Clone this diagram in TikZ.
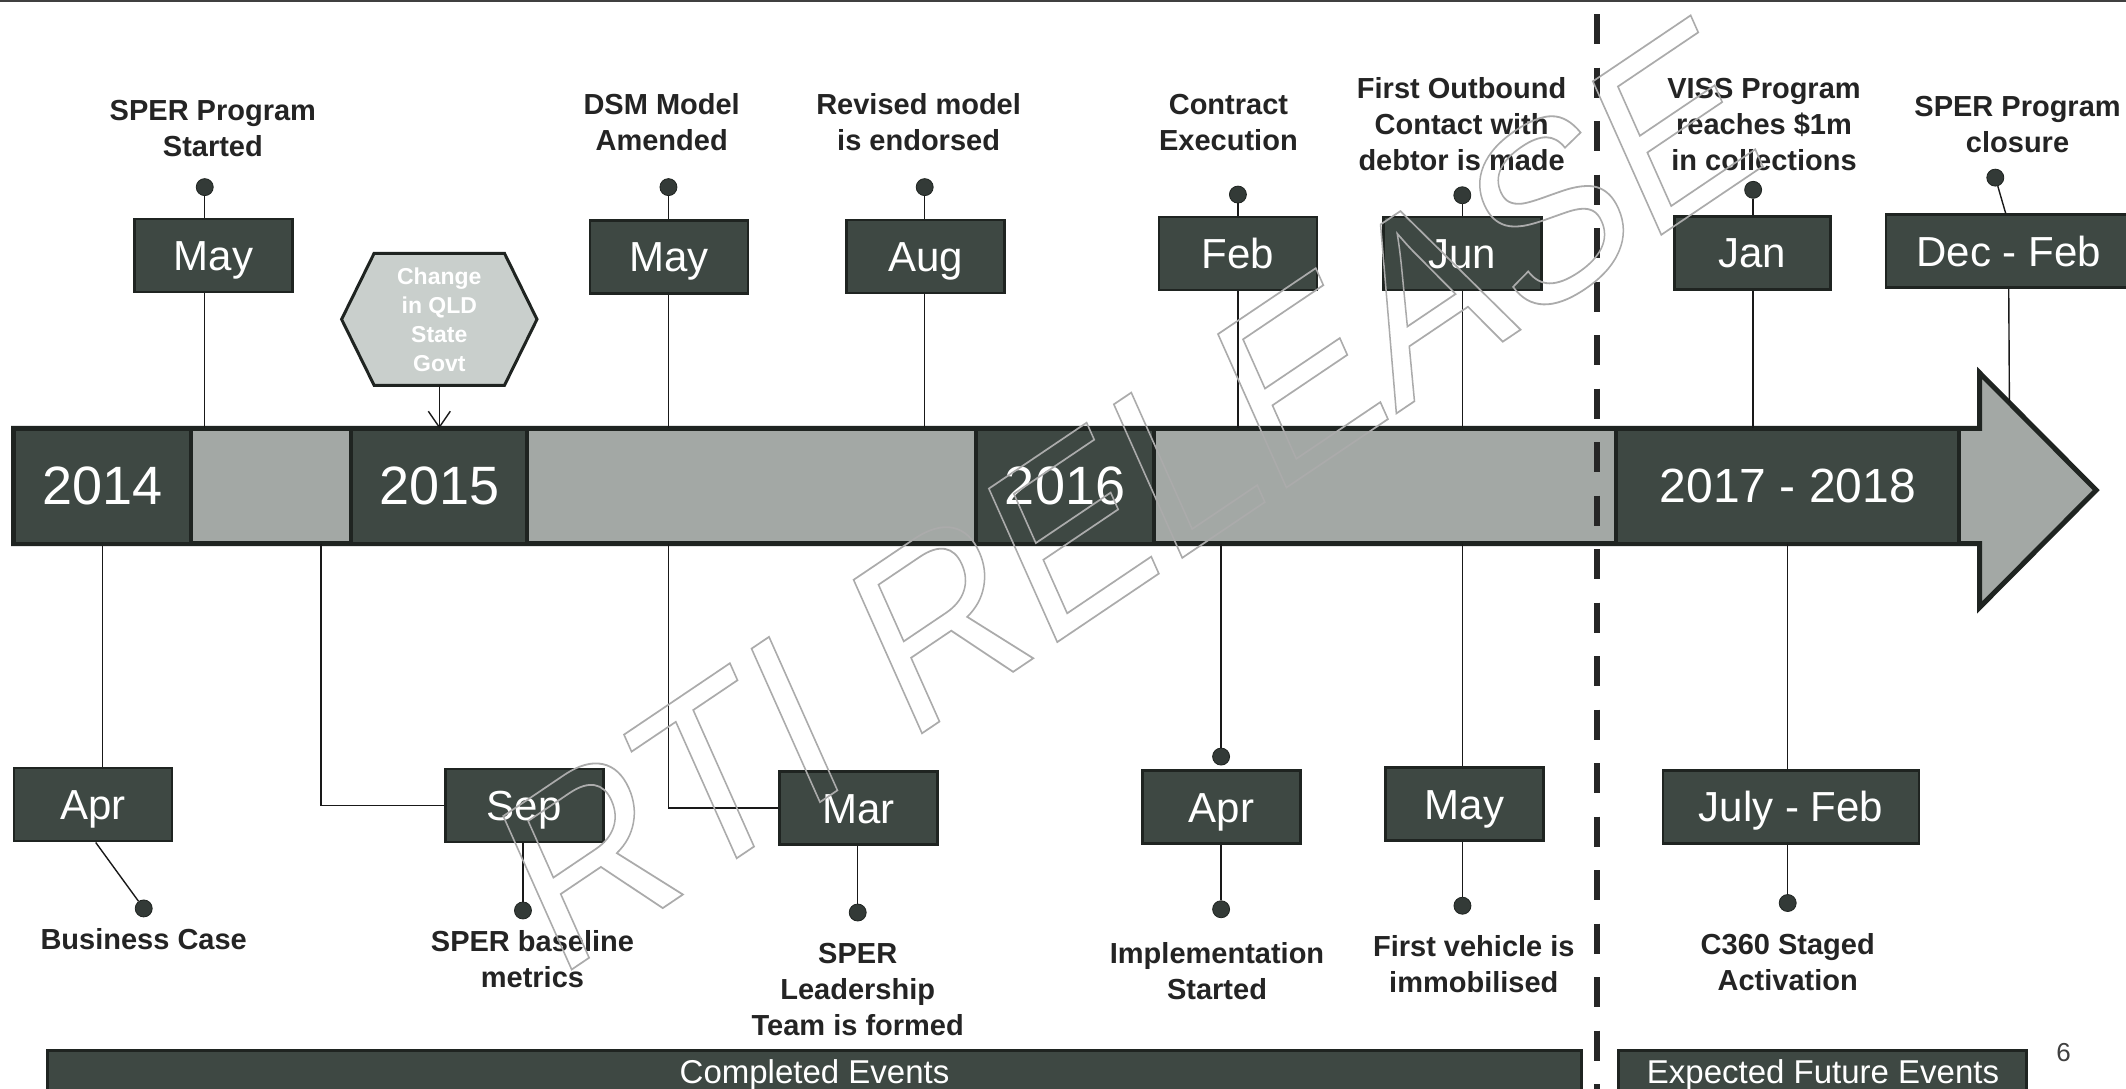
\documentclass[tikz,border=0pt]{standalone}
\usepackage{fontspec}
\setmainfont{Liberation Sans}
\usetikzlibrary{arrows.meta}

\definecolor{boxdark}{HTML}{3E4843}
\definecolor{boxedge}{HTML}{1F2421}
\definecolor{barlight}{HTML}{A3A8A5}
\definecolor{hexfill}{HTML}{C9CFCC}
\definecolor{labelcol}{HTML}{242424}
\definecolor{dotcol}{HTML}{333A37}
\definecolor{wmcol}{HTML}{ABABAB}

% outlined (stroked, unfilled) glyphs for the watermark
\newcommand\outlinetext[1]{\special{pdf:literal direct 1 Tr 1.6 w}#1\special{pdf:literal direct 0 Tr}}

\begin{document}
\begin{tikzpicture}[x=1.3559pt, y=-1.3559pt,
  monthbox/.style={draw=boxedge, line width=2.5pt, fill=boxdark, text=white,
    font=\fontsize{42}{42}\selectfont, minimum width=158pt, minimum height=73pt,
    inner sep=0pt, text height=30pt, text depth=0pt},
  yearbox/.style={draw=boxedge, line width=4pt, fill=boxdark, text=white,
    font=\fontsize{54}{54}\selectfont, minimum height=115pt, inner sep=0pt},
  evlabel/.style={text=labelcol, font=\fontsize{29}{36}\selectfont\bfseries,
    align=center, inner sep=0pt},
  evdot/.style={circle, fill=dotcol, draw=boxedge, line width=0.8pt,
    minimum size=17pt, inner sep=0pt},
  connline/.style={draw=black!90, line width=1.4pt},
  bannerbox/.style={draw=boxedge, line width=3pt, fill=boxdark, text=white,
    font=\fontsize{33}{33}\selectfont, inner sep=0pt, minimum height=50pt},
]
\useasboundingbox (0,0) rectangle (1568,803);
\fill[white] (0,0) rectangle (1568,803);

% top rule
\draw[line width=2pt, black!75] (0,1) -- (1568,1);

% ---------- time bar ----------
\draw[draw=boxedge, line width=5pt, fill=barlight, line join=miter]
  (10,316) -- (1460,316) -- (1460,275) -- (1546,361.5) -- (1460,448)
  -- (1460,401) -- (10,401) -- cycle;
\node[yearbox, minimum width=177.6pt] (y2014) at (75.5,358.5) {2014};
\node[yearbox, minimum width=176pt]   (y2015) at (324,358.5) {2015};
\node[yearbox, minimum width=177.6pt] (y2016) at (785.5,358.5) {2016};
\node[yearbox, minimum width=343pt, font=\fontsize{48}{48}\selectfont]
  (y2017) at (1318.5,358.5) {2017 - 2018};
\coordinate (bt) at (0,316);
\coordinate (bb) at (0,401);

% ---------- events above the bar ----------
\node[monthbox] (mayA) at (157.5,188.5) {May};
\node[evdot] (dA) at (151,138) {};
\node[evlabel] at (157,95) {SPER Program\\Started};
\draw[connline] (dA) -- (dA |- mayA.north);
\draw[connline] (dA |- mayA.south) -- (dA |- bt);

% hexagon
\node[minimum width=195pt, minimum height=131.5pt, inner sep=0pt] (hex) at (324,235.5) {};
\draw[draw=boxedge, line width=3pt, fill=hexfill, line join=miter]
  (hex.west) -- ([xshift=32.5pt]hex.north west) -- ([xshift=-32.5pt]hex.north east)
  -- (hex.east) -- ([xshift=-32.5pt]hex.south east) -- ([xshift=32.5pt]hex.south west) -- cycle;
\node[text=white, font=\fontsize{23}{29}\selectfont\bfseries, align=center, inner sep=0pt]
  at (hex.center) {Change\\in QLD\\State\\Govt};
\draw[connline, -{Straight Barb[length=16pt,width=22pt]}] (hex.south) -- (hex.south |- bt);

\node[monthbox] (mayB) at (493.5,189.5) {May};
\node[evdot] (dB) at (493,138) {};
\node[evlabel] at (488,90) {DSM Model\\Amended};
\draw[connline] (dB) -- (dB |- mayB.north);
\draw[connline] (dB |- mayB.south) -- (dB |- bt);

\node[monthbox] (aug) at (682.5,189) {Aug};
\node[evdot] (dC) at (682,138) {};
\node[evlabel] at (677.5,90) {Revised model\\is endorsed};
\draw[connline] (dC) -- (dC |- aug.north);
\draw[connline] (dC |- aug.south) -- (dC |- bt);

\node[monthbox] (feb) at (913,187) {Feb};
\node[evdot] (dD) at (913,143.5) {};
\node[evlabel] at (906,90) {Contract\\Execution};
\draw[connline] (dD) -- (dD |- feb.north);
\draw[connline] (dD |- feb.south) -- (dD |- bt);

\node[monthbox] (jun) at (1078.5,187) {Jun};
\node[evdot] (dE) at (1078.5,144) {};
\node[evlabel] at (1078,91.5) {First Outbound\\Contact with\\debtor is made};
\draw[connline] (dE) -- (dE |- jun.north);
\draw[connline] (dE |- jun.south) -- (dE |- bt);

\node[monthbox, minimum width=156pt] (jan) at (1292.5,186.5) {Jan};
\node[evdot] (dG) at (1293,140) {};
\node[evlabel] at (1301,92) {VISS Program\\reaches \$1m\\in collections};
\draw[connline] (dG) -- (dG |- jan.north);
\draw[connline] (dG |- jan.south) -- (dG |- bt);

\node[monthbox, minimum width=245pt] (decfeb) at (1481.5,185.3) {Dec - Feb};
\node[evdot] (dH) at (1471.6,131) {};
\node[evlabel] at (1488,92) {SPER Program\\closure};
\coordinate (hd) at (1482,297);
\draw[connline] (dH) -- ([xshift=-3pt]decfeb.north);
\draw[connline] (decfeb.south) -- (hd);

% ---------- events below the bar ----------
\node[monthbox] (aprA) at (68.6,593.5) {Apr};
\node[evdot] (dBa) at (106,670) {};
\node[evlabel] at (106,692.6) {Business Case};
\draw[connline] (aprA.north -| y2014.south) -- (y2014.south);
\draw[connline] ([xshift=2.7pt]aprA.south) -- (dBa);

\node[monthbox] (sep) at (386.7,594) {Sep};
\node[evdot] (dSe) at (385.7,671.5) {};
\node[evlabel] at (392.7,707.5) {SPER baseline\\metrics};
\coordinate (sb) at (236.6,401);
\draw[connline] (sb) |- (sep.west);
\draw[connline] (dSe |- sep.south) -- (dSe);

\node[monthbox] (mar) at (633,596) {Mar};
\node[evdot] (dMa) at (632.6,673) {};
\node[evlabel] at (632.6,729.7) {SPER\\Leadership\\Team is formed};
\draw[connline] (dB |- bb) |- (mar.west);
\draw[connline] (dMa |- mar.south) -- (dMa);

\node[monthbox] (aprB) at (901,595.3) {Apr};
\node[evdot] (dIa) at (900.6,558) {};
\node[evdot] (dIb) at (900.6,670.6) {};
\node[evlabel] at (897.6,716.5) {Implementation\\Started};
\draw[connline] (dIa |- bb) -- (dIa);
\draw[connline] (dIb |- aprB.south) -- (dIb);

\node[monthbox] (mayC) at (1080,593) {May};
\node[evdot] (dVb) at (1078.6,668) {};
\node[evlabel] at (1087,711) {First vehicle is\\immobilised};
\draw[connline] (dVb |- bb) -- (dVb |- mayC.north);
\draw[connline] (dVb |- mayC.south) -- (dVb);

\node[monthbox, minimum width=256pt] (jf) at (1321,595) {July - Feb};
\node[evdot] (dCb) at (1318.5,666) {};
\node[evlabel] at (1318.5,709.8) {C360 Staged\\Activation};
\draw[connline] (dCb |- bb) -- (dCb |- jf.north);
\draw[connline] (dCb |- jf.south) -- (dCb);

% ---------- footer ----------
\node[bannerbox, minimum width=1534pt] (done) at (600.75,793) {Completed Events};
\node[bannerbox, minimum width=408pt] (future) at (1344.5,793) {Expected Future Events};
\node[font=\fontsize{26}{26}\selectfont, text=black!75, inner sep=0pt] (pg) at (1522,776) {6};

% divider between completed and expected events
\draw[line width=6pt, black!85, dash pattern=on 30pt off 23.5pt] (1177.5,10.5) -- (1177.5,803);

% ---------- watermark ----------
\begin{scope}[shift={(833,364)}]
\node[cm={0.829,0.559,-0.44,0.987,(0,0)}, transform shape, inner sep=0pt,
  text=wmcol, font=\fontsize{226}{226}\selectfont] (wm) at (0,0) {\outlinetext{RTI RELEASE}};
\end{scope}
\end{tikzpicture}
\end{document}
